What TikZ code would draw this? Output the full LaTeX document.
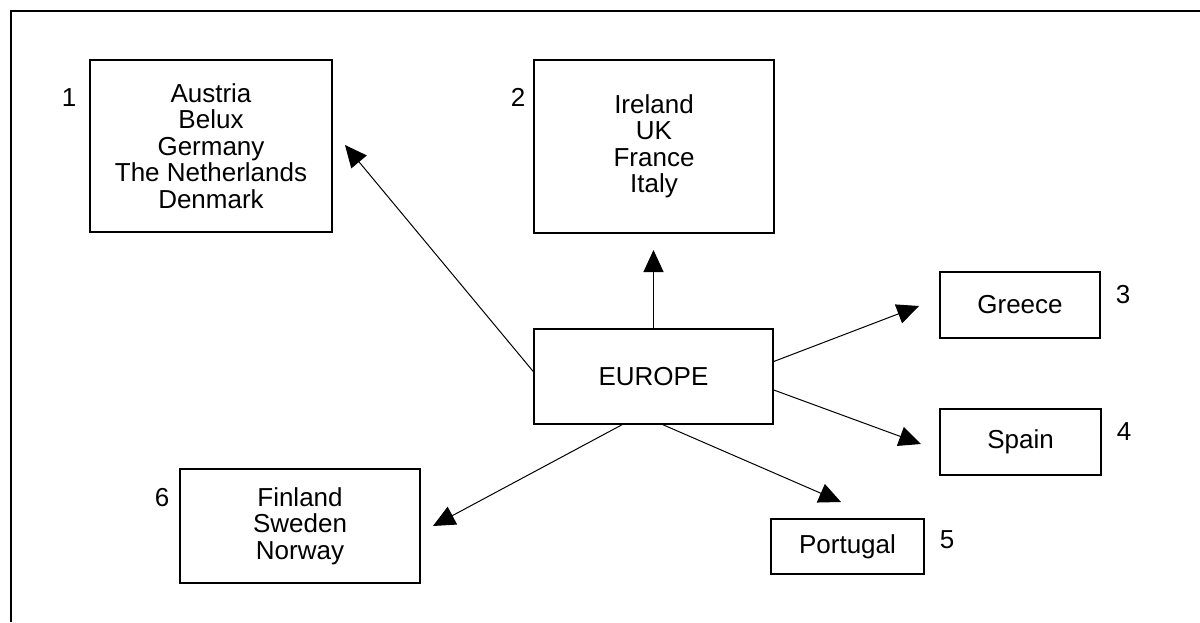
\documentclass[tikz,border=0pt]{standalone}
\usepackage{fontspec}
\setmainfont{Liberation Sans}
\usetikzlibrary{arrows.meta}

\begin{document}
\begin{tikzpicture}[x=0.5pt,y=0.5pt,
  box/.style={draw, line width=0.75pt, align=center, inner sep=0pt,
    font=\fontsize{13}{13.25}\selectfont},
  num/.style={font=\fontsize{13}{13.25}\selectfont},
  arr/.style={-{Triangle[length=11pt,width=10pt]}, line width=0.5pt}]
\useasboundingbox (0,0) rectangle (1200,-622);
%frame
\draw [line width=0.75pt] (1200,-11) -- (11,-11) -- (11,-622);
%boxes
\node [box, minimum width=121pt, minimum height=86pt] (g1) at (211,-146)
  {Austria\\Belux\\Germany\\The Netherlands\\Denmark};
\node [box, minimum width=120pt, minimum height=86.5pt] (g2) at (654,-146.5)
  {Ireland\\UK\\France\\Italy};
\node [box, minimum width=80pt, minimum height=33pt] (g3) at (1020,-305) {Greece};
\node [box, minimum width=80.5pt, minimum height=33pt] (g4) at (1020.5,-442) {Spain};
\node [box, minimum width=76.5pt, minimum height=27.5pt] (g5) at (847.5,-546.5) {Portugal};
\node [box, minimum width=120pt, minimum height=57pt] (g6) at (300,-526)
  {Finland\\Sweden\\Norway};
\node [box, minimum width=119.5pt, minimum height=47.5pt] (europe) at (653.5,-376.5) {EUROPE};
%numbers
\node [num] (n1) at (69,-98) {1};
\node [num] (n2) at (518,-97) {2};
\node [num] (n3) at (1123,-295) {3};
\node [num] (n4) at (1124,-432) {4};
\node [num] (n5) at (947,-540) {5};
\node [num] (n6) at (162,-498) {6};
%arrow tips
\coordinate (t1) at (345,-145);
\coordinate (t2) at (653.5,-250);
\coordinate (t3) at (919,-306);
\coordinate (t4) at (921,-444);
\coordinate (t5) at (841,-502);
\coordinate (t6) at (433,-526);
%arrows
\draw [arr] (europe.west) ++(0,5) -- (t1);
\draw [arr] (europe.north) -- (t2);
\draw [arr] (europe.east) ++(0,15) -- (t3);
\draw [arr] (europe.east) ++(0,-13.5) -- (t4);
\draw [arr] (europe.south) ++(9.5,0) -- (t5);
\draw [arr] (europe.south) ++(-31.5,0) -- (t6);
\end{tikzpicture}
\end{document}
